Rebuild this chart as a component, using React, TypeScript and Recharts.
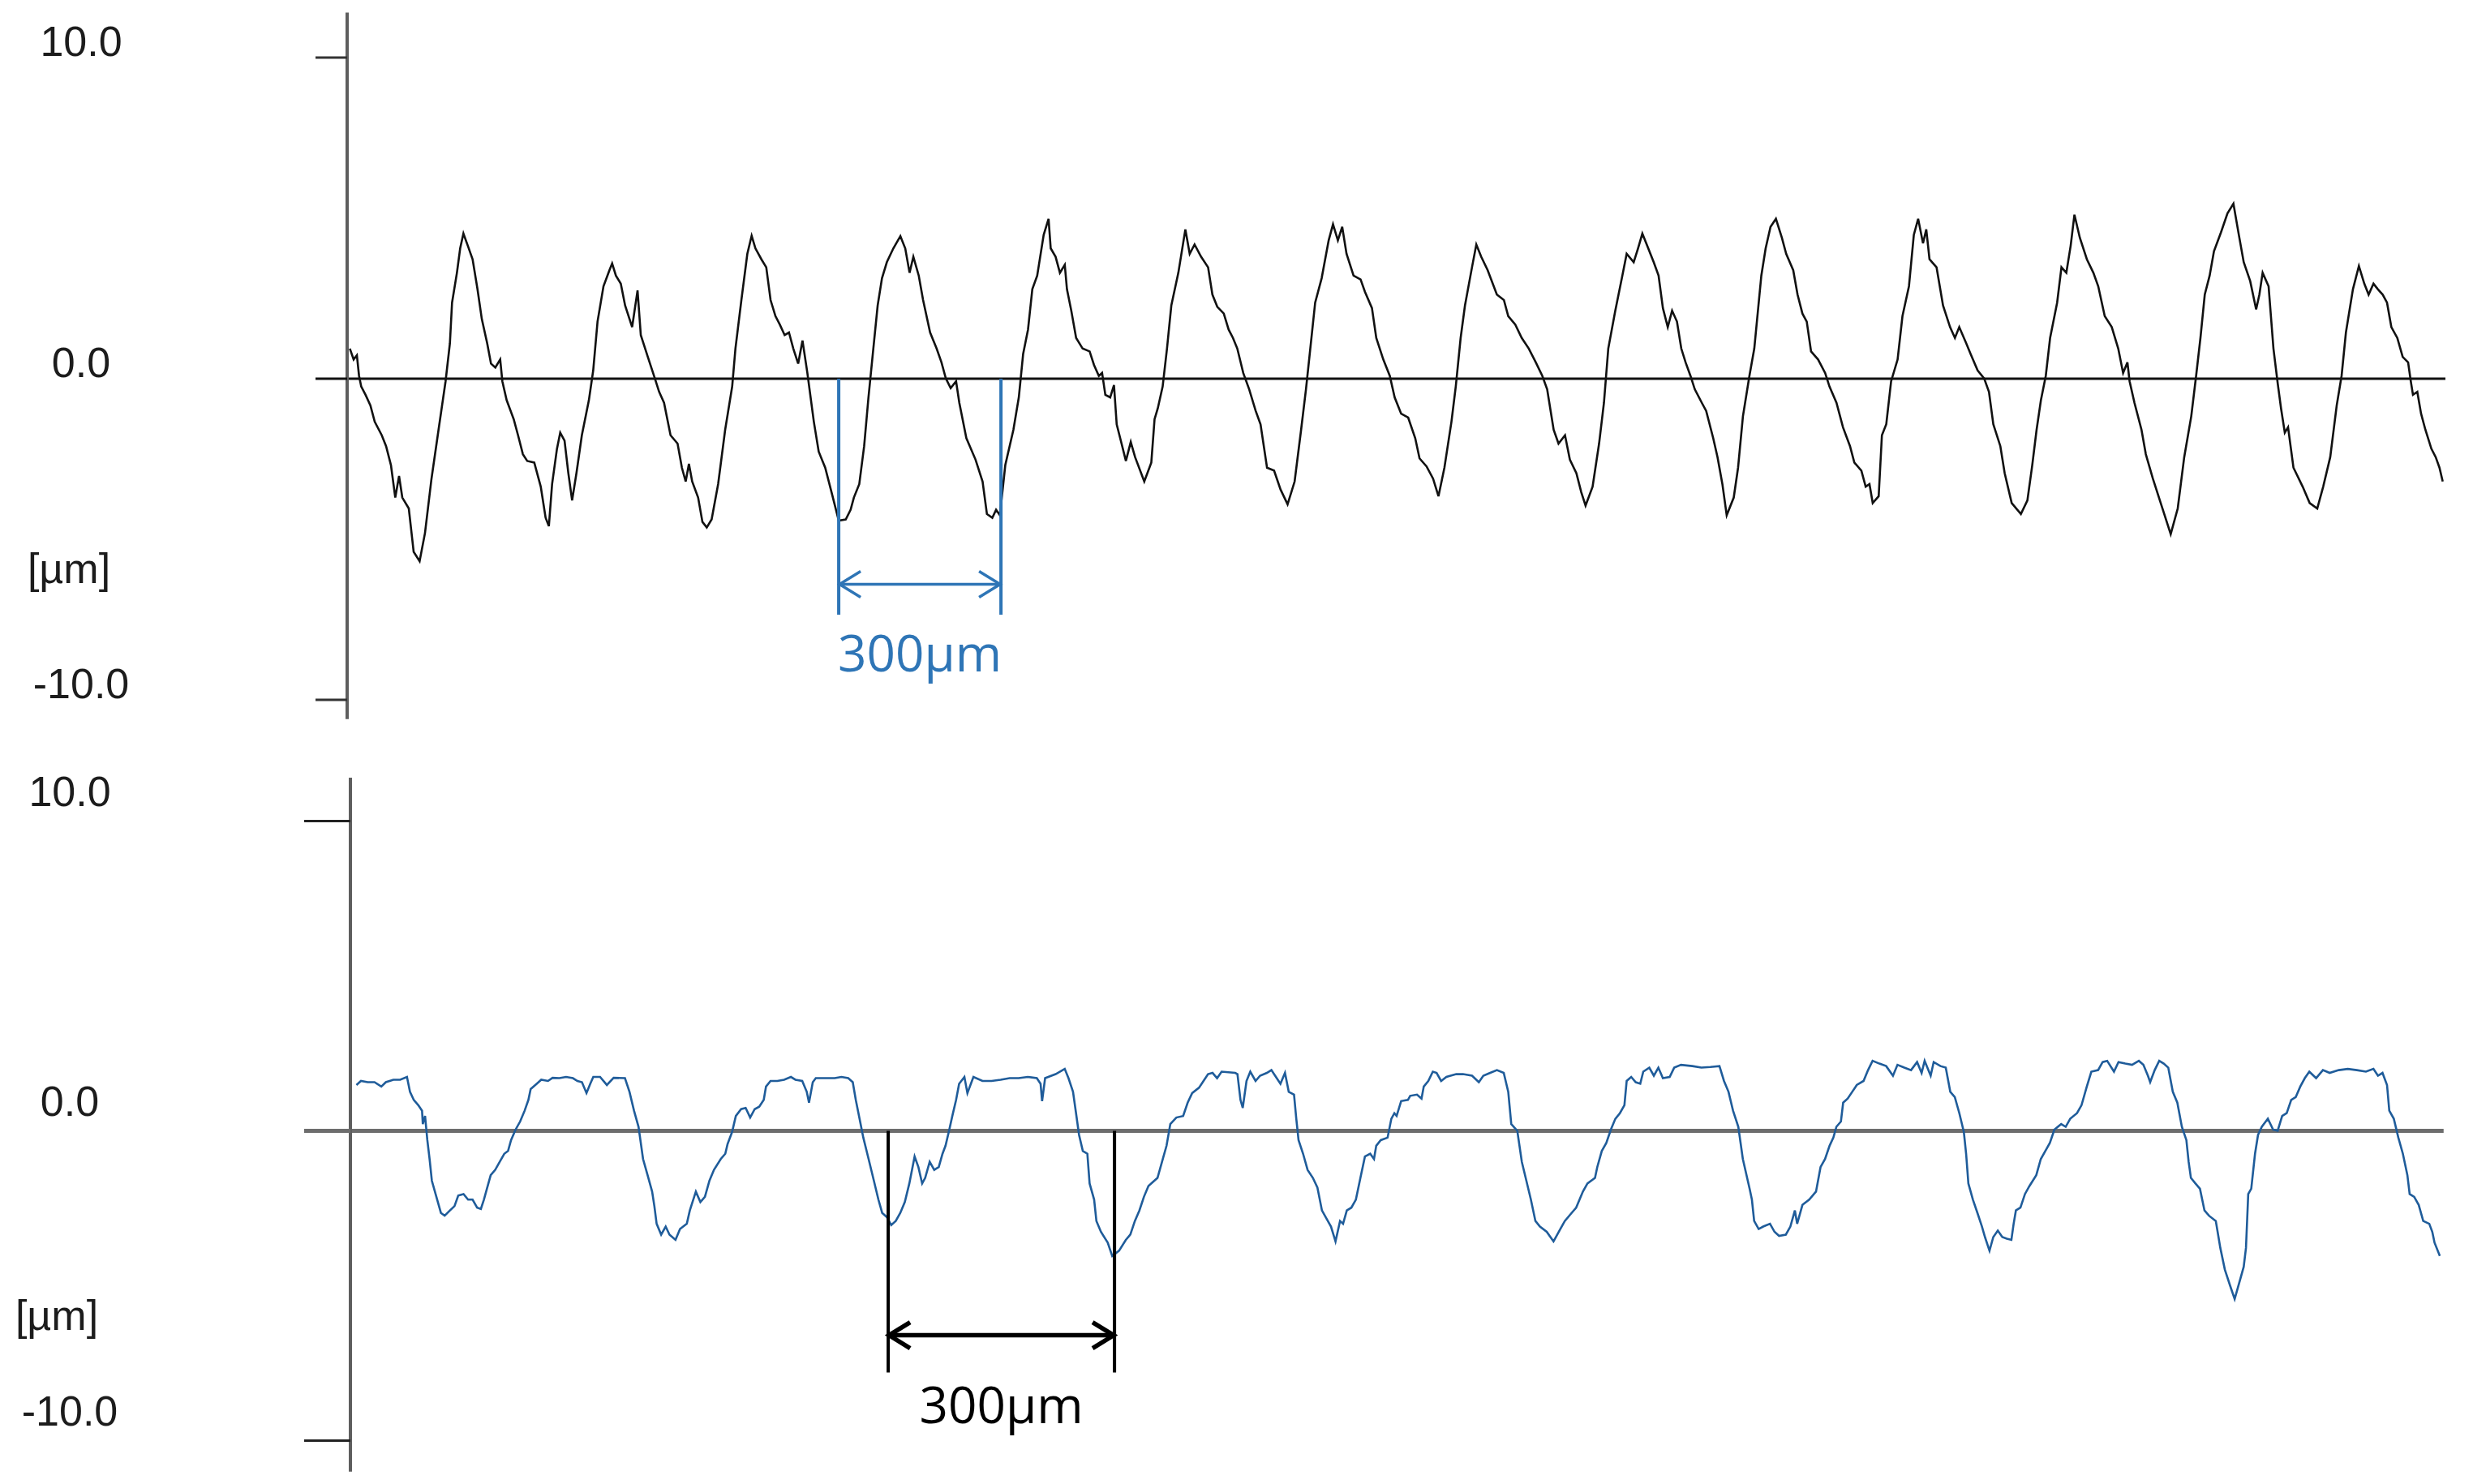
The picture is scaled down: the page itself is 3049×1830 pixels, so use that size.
import { LineChart, Line, XAxis, YAxis, ReferenceLine } from "recharts";

// profile readings, x in µm along the trace, y in µm height
const topX = [
  5, 12, 18, 22, 26, 34, 43, 51, 64, 72, 81, 89, 96, 102, 114, 123, 134, 144, 156, 169,
  182, 190, 194, 203, 209, 215, 224, 232, 241, 249, 259, 266, 274, 283, 287, 295, 308, 316, 325, 333,
  346, 358, 367, 373, 379, 388, 394, 402, 409, 416, 424, 434, 447, 455, 463, 474, 485, 490, 497, 506,
  514, 527, 537, 543, 556, 569, 577, 586, 598, 611, 619, 626, 632, 638, 649, 657, 665, 674, 686, 699,
  712, 718, 729, 740, 748, 755, 766, 775, 783, 792, 800, 809, 817, 825, 834, 842, 851, 863, 872, 884,
  897, 909, 922, 931, 937, 947, 956, 964, 973, 981, 989, 998, 1010, 1023, 1032, 1040, 1047, 1057, 1065, 1078,
  1090, 1099, 1107, 1116, 1126, 1132, 1145, 1162, 1175, 1183, 1193, 1200, 1207, 1217, 1232, 1242, 1250, 1259, 1267, 1276,
  1288, 1297, 1301, 1310, 1318, 1327, 1331, 1339, 1348, 1360, 1373, 1381, 1390, 1396, 1402, 1411, 1418, 1423, 1432, 1440,
  1449, 1457, 1474, 1487, 1493, 1499, 1508, 1516, 1524, 1537, 1550, 1558, 1567, 1579, 1592, 1600, 1609, 1621, 1630, 1638,
  1646, 1657, 1668, 1680, 1689, 1701, 1714, 1726, 1739, 1752, 1764, 1773, 1781, 1790, 1802, 1815, 1823, 1832, 1840, 1848,
  1861, 1874, 1882, 1895, 1903, 1916, 1928, 1937, 1949, 1962, 1975, 1983, 1996, 2008, 2018, 2029, 2042, 2050, 2059, 2067,
  2080, 2088, 2097, 2109, 2126, 2139, 2147, 2160, 2172, 2185, 2198, 2210, 2219, 2231, 2240, 2252, 2261, 2273, 2282, 2290,
  2303, 2315, 2324, 2332, 2345, 2358, 2366, 2379, 2387, 2395, 2404, 2416, 2425, 2433, 2442, 2450, 2459, 2467, 2475, 2484,
  2492, 2505, 2513, 2526, 2534, 2543, 2551, 2564, 2572, 2581, 2593, 2602, 2615, 2623, 2632, 2642, 2653, 2661, 2674, 2682,
  2691, 2699, 2707, 2720, 2733, 2741, 2754, 2766, 2779, 2787, 2800, 2808, 2815, 2821, 2832, 2838, 2846, 2855, 2867, 2876,
  2888, 2897, 2905, 2914, 2920, 2926, 2939, 2951, 2964, 2973, 2981, 2994, 3002, 3015, 3027, 3036, 3044, 3057, 3065, 3078,
  3095, 3107, 3116, 3124, 3132, 3141, 3149, 3162, 3170, 3179, 3187, 3194, 3204, 3217, 3229, 3238, 3250, 3263, 3275, 3284,
  3292, 3296, 3305, 3318, 3326, 3339, 3355, 3372, 3385, 3397, 3410, 3419, 3427, 3435, 3444, 3452, 3465, 3477, 3488, 3498,
  3507, 3519, 3530, 3536, 3542, 3553, 3562, 3570, 3576, 3583, 3589, 3599, 3616, 3629, 3643, 3654, 3667, 3679, 3688, 3696,
  3709, 3720, 3730, 3738, 3747, 3755, 3764, 3772, 3780, 3791, 3801, 3811, 3816, 3820, 3828, 3835, 3843, 3854, 3862, 3869,
  3875,
];
const topY = [
  0.94, 0.6, 0.73, 0.09, -0.24, -0.5, -0.83, -1.34, -1.76, -2.1, -2.69, -3.7, -3.03, -3.7, -4.04, -5.39, -5.68, -4.8, -3.11, -1.59,
  -0.08, 1.1, 2.37, 3.3, 4.06, 4.52, 4.1, 3.72, 2.79, 1.86, 1.1, 0.47, 0.35, 0.6, -0.08, -0.67, -1.26, -1.76, -2.35, -2.56,
  -2.61, -3.36, -4.33, -4.59, -3.28, -2.18, -1.68, -1.93, -2.94, -3.79, -2.94, -1.76, -0.67, 0.26, 1.78, 2.88, 3.38, 3.59, 3.21, 2.96,
  2.28, 1.61, 2.75, 1.36, 0.68, 0.01, -0.41, -0.75, -1.76, -2.02, -2.77, -3.2, -2.65, -3.2, -3.7, -4.46, -4.63, -4.38, -3.28, -1.59,
  -0.24, 0.94, 2.45, 3.89, 4.45, 4.06, 3.72, 3.47, 2.45, 1.95, 1.69, 1.36, 1.44, 0.94, 0.47, 1.19, 0.18, -1.34, -2.27, -2.77,
  -3.62, -4.42, -4.38, -4.08, -3.7, -3.28, -2.1, -0.58, 0.94, 2.28, 3.13, 3.63, 4.06, 4.44, 4.06, 3.3, 3.8, 3.21, 2.45, 1.44,
  0.94, 0.51, 0.01, -0.29, -0.08, -0.75, -1.85, -2.52, -3.2, -4.21, -4.33, -4.08, -4.25, -2.69, -1.59, -0.58, 0.77, 1.53, 2.79, 3.21,
  4.48, 4.98, 4.06, 3.8, 3.3, 3.55, 2.79, 2.12, 1.27, 0.94, 0.85, 0.43, 0.09, 0.18, -0.5, -0.58, -0.2, -1.42, -2.02, -2.56,
  -1.97, -2.44, -3.2, -2.61, -1.26, -0.92, -0.24, 0.94, 2.28, 3.3, 4.65, 3.89, 4.18, 3.8, 3.47, 2.62, 2.24, 2.03, 1.53, 1.27,
  0.94, 0.18, -0.33, -1.0, -1.42, -2.77, -2.86, -3.45, -3.91, -3.2, -1.59, -0.33, 0.94, 2.37, 3.13, 4.31, 4.81, 4.31, 4.73, 3.89,
  3.21, 3.09, 2.71, 2.2, 1.27, 0.6, 0.09, -0.58, -1.09, -1.21, -1.85, -2.48, -2.73, -3.11, -3.66, -2.77, -1.34, -0.24, 1.27, 2.28,
  3.47, 4.18, 3.8, 3.38, 2.62, 2.45, 1.95, 1.69, 1.27, 0.94, 0.51, 0.09, -0.33, -1.59, -2.02, -1.76, -2.52, -2.94, -3.53, -3.95,
  -3.36, -2.02, -0.75, 0.94, 2.12, 3.21, 3.89, 3.63, 4.06, 4.52, 4.14, 3.63, 3.21, 2.2, 1.61, 2.12, 1.78, 0.94, 0.51, 0.09,
  -0.33, -0.75, -1.0, -1.85, -2.44, -3.28, -4.25, -3.7, -2.77, -1.17, 0.09, 0.94, 3.21, 4.06, 4.73, 4.98, 4.39, 3.89, 3.38, 2.62,
  2.03, 1.78, 0.85, 0.6, 0.18, -0.24, -0.75, -1.51, -2.1, -2.61, -2.86, -3.36, -3.28, -3.87, -3.66, -1.76, -1.42, -0.08, 0.6, 1.95,
  2.88, 4.48, 4.98, 4.22, 4.65, 3.72, 3.47, 2.28, 1.61, 1.27, 1.61, 1.1, 0.77, 0.26, 0.01, -0.41, -1.42, -2.1, -2.94, -3.87,
  -4.21, -3.79, -2.69, -1.59, -0.67, 0.09, 1.27, 2.37, 3.47, 3.3, 4.14, 5.11, 4.39, 3.72, 3.3, 2.88, 1.95, 1.61, 0.94, 0.18,
  0.51, -0.08, -0.75, -1.59, -2.35, -3.11, -3.95, -4.84, -4.04, -2.44, -1.17, 0.09, 1.27, 2.62, 3.21, 3.97, 4.56, 5.15, 5.45, 4.48,
  3.63, 3.04, 2.16, 2.62, 3.3, 2.88, 0.94, -0.16, -0.92, -1.68, -1.51, -2.77, -3.36, -3.87, -4.04, -3.36, -2.44, -0.83, 0.09, 1.44,
  2.79, 3.51, 2.96, 2.62, 2.96, 2.79, 2.62, 2.37, 1.61, 1.27, 0.68, 0.51, -0.08, -0.5, -0.41, -1.09, -1.59, -2.18, -2.44, -2.77,
  -3.2,
];

const bottomX = [
  8, 14, 23, 32, 41, 47, 57, 66, 75, 79, 84, 90, 95, 96, 99, 102, 105, 108, 114, 120,
  125, 132, 138, 143, 150, 156, 162, 168, 173, 177, 181, 186, 192, 198, 204, 209, 213, 219, 225, 231,
  236, 239, 247, 253, 262, 268, 277, 286, 295, 301, 307, 313, 318, 322, 331, 340, 349, 364, 370, 376,
  382, 388, 394, 400, 403, 406, 412, 418, 423, 431, 437, 446, 450, 458, 464, 470, 476, 482, 491, 497,
  500, 506, 511, 518, 524, 530, 536, 542, 548, 551, 557, 566, 575, 584, 590, 599, 605, 608, 613, 617,
  630, 642, 651, 660, 666, 670, 675, 680, 687, 694, 700, 705, 711, 717, 723, 729, 735, 741, 748, 753,
  758, 762, 768, 774, 780, 785, 789, 794, 798, 803, 807, 814, 818, 826, 838, 850, 862, 874, 886, 898,
  910, 915, 917, 921, 935, 947, 952, 958, 962, 966, 971, 977, 980, 986, 989, 995, 1004, 1010, 1019, 1028,
  1034, 1040, 1046, 1052, 1058, 1064, 1070, 1076, 1082, 1087, 1095, 1104, 1110, 1116, 1125, 1131, 1137, 1143, 1149, 1155,
  1164, 1173, 1176, 1180, 1183, 1188, 1193, 1200, 1206, 1215, 1221, 1227, 1233, 1239, 1244, 1251, 1254, 1257, 1263, 1269,
  1276, 1282, 1288, 1294, 1300, 1306, 1312, 1316, 1321, 1327, 1333, 1339, 1345, 1352, 1357, 1360, 1366, 1375, 1380, 1384,
  1387, 1393, 1402, 1405, 1414, 1420, 1423, 1429, 1435, 1440, 1446, 1453, 1466, 1475, 1487, 1496, 1502, 1511, 1520, 1529,
  1535, 1539, 1547, 1553, 1559, 1565, 1571, 1577, 1586, 1595, 1604, 1610, 1619, 1625, 1634, 1640, 1650, 1653, 1659, 1665,
  1671, 1677, 1683, 1689, 1692, 1698, 1704, 1710, 1714, 1722, 1728, 1734, 1740, 1749, 1755, 1764, 1779, 1791, 1803, 1815,
  1821, 1827, 1833, 1840, 1846, 1855, 1858, 1861, 1867, 1873, 1882, 1888, 1894, 1903, 1909, 1915, 1918, 1925, 1934, 1943,
  1949, 1955, 1961, 1966, 1970, 1976, 1979, 1985, 1991, 1997, 2006, 2012, 2018, 2027, 2036, 2045, 2051, 2060, 2069, 2077,
  2083, 2087, 2095, 2099, 2108, 2115, 2121, 2127, 2133, 2139, 2142, 2145, 2151, 2157, 2163, 2167, 2173, 2178, 2184, 2190,
  2196, 2202, 2205, 2208, 2214, 2220, 2226, 2235, 2241, 2247, 2253, 2259, 2268, 2274, 2280, 2289, 2295, 2302, 2308, 2317,
  2323, 2329, 2338, 2344, 2353, 2362, 2371, 2377, 2383, 2386, 2392, 2398, 2404, 2410, 2416, 2422, 2428, 2434, 2437, 2440,
  2446, 2452, 2458, 2464, 2473, 2479, 2485, 2492, 2498, 2504, 2510, 2513, 2516, 2520, 2525, 2529, 2534, 2542, 2549, 2555,
  2561, 2567, 2573, 2579, 2585, 2591, 2597, 2606, 2615, 2624, 2636, 2648, 2660, 2672, 2682, 2688, 2694, 2700, 2703, 2709,
  2715, 2721, 2727, 2730, 2736, 2742, 2748, 2756, 2760, 2763, 2770,
];
const bottomY = [
  1.48, 1.61, 1.57, 1.57, 1.43, 1.57, 1.65, 1.65, 1.74, 1.26, 1.0, 0.83, 0.65, 0.22, 0.48, -0.3, -0.91, -1.61, -2.13, -2.65,
  -2.74, -2.57, -2.43, -2.09, -2.04, -2.22, -2.22, -2.48, -2.52, -2.22, -1.87, -1.43, -1.26, -1.0, -0.74, -0.65, -0.3, 0.04, 0.3, 0.65,
  1.0, 1.35, 1.52, 1.65, 1.61, 1.71, 1.7, 1.74, 1.7, 1.61, 1.57, 1.22, 1.52, 1.74, 1.74, 1.48, 1.71, 1.7, 1.26, 0.65,
  0.13, -0.91, -1.43, -1.96, -2.43, -3.0, -3.35, -3.09, -3.35, -3.52, -3.17, -3.0, -2.57, -1.96, -2.3, -2.13, -1.61, -1.26, -0.91, -0.74,
  -0.43, -0.04, 0.48, 0.7, 0.74, 0.43, 0.7, 0.78, 1.0, 1.43, 1.61, 1.61, 1.65, 1.74, 1.65, 1.61, 1.26, 0.91, 1.57, 1.7,
  1.7, 1.7, 1.74, 1.7, 1.57, 1.0, 0.39, -0.22, -0.91, -1.61, -2.22, -2.65, -2.78, -3.04, -2.91, -2.65, -2.3, -1.7, -0.83, -1.17,
  -1.7, -1.52, -1.0, -1.26, -1.17, -0.74, -0.48, 0.04, 0.48, 1.0, 1.52, 1.74, 1.22, 1.74, 1.61, 1.61, 1.65, 1.7, 1.7, 1.74,
  1.7, 1.52, 0.96, 1.7, 1.83, 2.0, 1.7, 1.26, 0.57, -0.13, -0.65, -0.74, -1.7, -2.22, -2.91, -3.26, -3.61, -4.04, -3.87, -3.52,
  -3.35, -2.91, -2.57, -2.13, -1.78, -1.65, -1.52, -1.0, -0.48, 0.22, 0.43, 0.48, 0.91, 1.22, 1.39, 1.61, 1.83, 1.87, 1.7, 1.91,
  1.89, 1.87, 1.83, 1.0, 0.74, 1.61, 1.91, 1.61, 1.78, 1.87, 1.96, 1.74, 1.52, 1.87, 1.26, 1.17, 0.39, -0.3, -0.74, -1.26,
  -1.52, -1.83, -2.57, -2.83, -3.09, -3.57, -2.91, -3.0, -2.57, -2.48, -2.22, -1.52, -0.83, -0.74, -0.91, -0.48, -0.3, -0.22, 0.39, 0.57,
  0.48, 0.96, 1.0, 1.13, 1.17, 1.04, 1.43, 1.61, 1.91, 1.87, 1.61, 1.74, 1.83, 1.83, 1.78, 1.57, 1.78, 1.87, 1.96, 1.87,
  1.26, 0.22, 0.0, -1.0, -1.61, -2.22, -2.91, -3.09, -3.26, -3.57, -3.17, -2.91, -2.65, -2.48, -1.96, -1.7, -1.52, -1.17, -0.65, -0.39,
  0.04, 0.39, 0.57, 0.83, 1.61, 1.74, 1.57, 1.52, 1.91, 2.04, 1.78, 2.04, 1.7, 1.74, 2.04, 2.13, 2.09, 2.04, 2.06, 2.09,
  1.61, 1.26, 0.65, 0.13, -0.91, -1.87, -2.22, -2.91, -3.17, -3.09, -3.0, -3.26, -3.39, -3.35, -3.09, -2.57, -3.0, -2.39, -2.22, -1.96,
  -1.17, -0.91, -0.48, -0.22, 0.13, 0.3, 0.91, 1.04, 1.26, 1.48, 1.61, 1.96, 2.26, 2.17, 2.09, 1.78, 2.13, 2.04, 1.96, 2.22,
  1.87, 2.26, 1.78, 2.22, 2.09, 2.04, 1.26, 1.09, 0.57, -0.04, -0.74, -1.7, -2.22, -2.65, -3.09, -3.43, -3.87, -3.43, -3.22, -3.43,
  -3.48, -3.52, -3.0, -2.57, -2.48, -2.04, -1.78, -1.43, -0.91, -0.65, -0.39, 0.04, 0.22, 0.13, 0.39, 0.57, 0.83, 1.43, 1.91, 1.96,
  2.22, 2.26, 1.91, 2.22, 2.17, 2.13, 2.26, 2.13, 1.78, 1.57, 1.96, 2.26, 2.17, 2.04, 1.26, 0.91, 0.13, -0.3, -1.0, -1.52,
  -1.7, -1.87, -2.57, -2.74, -2.91, -3.78, -4.48, -5.0, -5.43, -4.91, -4.39, -3.78, -2.04, -1.87, -0.74, -0.13, 0.13, 0.39, 0.04, 0.0,
  0.48, 0.57, 1.0, 1.09, 1.43, 1.7, 1.91, 1.7, 1.96, 1.87, 1.96, 2.0, 1.96, 1.91, 2.0, 1.78, 1.87, 1.48, 0.65, 0.39,
  -0.22, -0.74, -1.43, -2.04, -2.13, -2.39, -2.91, -3.0, -3.26, -3.61, -4.04,
];

const yTicks = [-10, 0, 10];
const unitText = "[µm]";
const pitchText = "300µm";

// pitch markers (µm positions of the two measured valleys)
const topPitch = [909, 1209];
const bottomPitch = [713, 1013];

const topData = topX.map((x, i) => ({ x, y: topY[i] }));
const bottomData = bottomX.map((x, i) => ({ x, y: bottomY[i] }));

const labelFont = '"Liberation Sans", Arial, sans-serif';
const noteFont = '"Open Sans", "Noto Sans", sans-serif';

type PanelStyle = {
  tickLen: number;
  tickColor: string;
  zeroColor: string;
  zeroWidth: number;
  labelX: number;
  labelDy: number;
};

function makeTick(p: PanelStyle) {
  return (props: any) => {
    const { x, y, payload } = props;
    const isZero = payload.value === 0;
    return (
      <g>
        <line
          x1={x - p.tickLen}
          x2={x}
          y1={y}
          y2={y}
          stroke={isZero ? p.zeroColor : p.tickColor}
          strokeWidth={isZero ? p.zeroWidth : 3}
        />
        <text
          x={p.labelX}
          y={y + p.labelDy}
          textAnchor="middle"
          dominantBaseline="central"
          fontFamily={labelFont}
          fontSize={52}
          fill="#1c1c1c"
        >
          {payload.value.toFixed(1)}
        </text>
      </g>
    );
  };
}

function makeUnit(cx: number) {
  return (props: any) => (
    <text
      x={cx}
      y={props.viewBox.y}
      textAnchor="middle"
      dominantBaseline="central"
      fontFamily={labelFont}
      fontSize={52}
      fill="#1c1c1c"
    >
      {unitText}
    </text>
  );
}

function makeArrow(color: string, width: number) {
  return (props: any) => {
    const { x1, y1, x2, y2 } = props;
    const a = 27;
    const b = 16;
    return (
      <g>
        <line x1={x1} y1={y1} x2={x2} y2={y2} stroke={color} strokeWidth={width} />
        <polyline
          points={`${x1 + a},${y1 - b} ${x1 + 1},${y1} ${x1 + a},${y1 + b}`}
          fill="none"
          stroke={color}
          strokeWidth={width}
        />
        <polyline
          points={`${x2 - a},${y2 - b} ${x2 - 1},${y2} ${x2 - a},${y2 + b}`}
          fill="none"
          stroke={color}
          strokeWidth={width}
        />
        <text
          x={(x1 + x2) / 2}
          y={y1 + 84}
          textAnchor="middle"
          dominantBaseline="central"
          fontFamily={noteFont}
          fontSize={62}
          fill={color}
        >
          {pitchText}
        </text>
      </g>
    );
  };
}

const topTick = makeTick({ tickLen: 39, tickColor: "#333", zeroColor: "#111", zeroWidth: 3, labelX: 100, labelDy: -20 });
const bottomTick = makeTick({ tickLen: 57, tickColor: "#222", zeroColor: "#6d6d6d", zeroWidth: 5, labelX: 86, labelDy: -36 });

export default function App() {
  const blue = "#2e75b6";
  return (
    <div style={{ position: "absolute", left: 0, top: 0, width: 3049, height: 1830, background: "#fff" }}>
      <div style={{ position: "absolute", left: 0, top: 0 }}>
        <LineChart width={3049} height={910} data={topData} margin={{ top: 15.6, right: 34, bottom: 23.2, left: 0 }}>
          <XAxis type="number" dataKey="x" domain={[0, 3880]} allowDataOverflow hide />
          <YAxis
            type="number"
            domain={[-10.6, 11.4]}
            allowDataOverflow
            ticks={yTicks}
            interval={0}
            width={428}
            tickSize={0}
            tickMargin={0}
            tickLine={false}
            tick={topTick}
            axisLine={{ stroke: "#5e5e5e", strokeWidth: 4 }}
          />
          <ReferenceLine y={0} stroke="#111" strokeWidth={3} />
          <ReferenceLine y={-5.9} stroke="none" label={makeUnit(85)} />
          <Line dataKey="y" type="linear" dot={false} stroke="#111" strokeWidth={2.6} isAnimationActive={false} />
          {topPitch.map((p) => (
            <ReferenceLine key={p} segment={[{ x: p, y: 0 }, { x: p, y: -7.35 }]} stroke={blue} strokeWidth={4} />
          ))}
          <ReferenceLine
            segment={[{ x: topPitch[0], y: -6.4 }, { x: topPitch[1], y: -6.4 }]}
            shape={makeArrow(blue, 3.5)}
          />
        </LineChart>
      </div>
      <div style={{ position: "absolute", left: 0, top: 930 }}>
        <LineChart width={3049} height={900} data={bottomData} margin={{ top: 29, right: 36.25, bottom: 15.3, left: 0 }}>
          <XAxis type="number" dataKey="x" domain={[0, 2775]} allowDataOverflow hide />
          <YAxis
            type="number"
            domain={[-11.0, 11.4]}
            allowDataOverflow
            ticks={yTicks}
            interval={0}
            width={432}
            tickSize={0}
            tickMargin={0}
            tickLine={false}
            tick={bottomTick}
            axisLine={{ stroke: "#5e5e5e", strokeWidth: 4 }}
          />
          <ReferenceLine y={0} stroke="#6d6d6d" strokeWidth={5} />
          <ReferenceLine y={-5.95} stroke="none" label={makeUnit(70)} />
          <Line dataKey="y" type="linear" dot={false} stroke="#1f5c9a" strokeWidth={2.6} isAnimationActive={false} />
          {bottomPitch.map((p) => (
            <ReferenceLine key={p} segment={[{ x: p, y: 0 }, { x: p, y: -7.8 }]} stroke="#000" strokeWidth={4} />
          ))}
          <ReferenceLine
            segment={[{ x: bottomPitch[0], y: -6.6 }, { x: bottomPitch[1], y: -6.6 }]}
            shape={makeArrow("#000", 5.5)}
          />
        </LineChart>
      </div>
    </div>
  );
}
